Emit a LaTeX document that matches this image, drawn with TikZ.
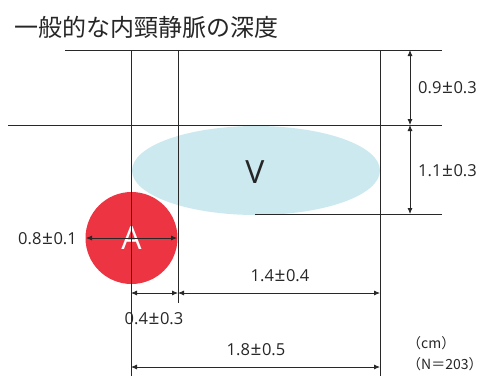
\documentclass[tikz,border=0pt]{standalone}
\usepackage{fontspec}
\setmainfont{Open Sans}
\newfontfamily\cjk{Noto Sans CJK JP}
\usetikzlibrary{arrows.meta}
\definecolor{lineg}{RGB}{40,40,40}
\definecolor{vblue}{RGB}{205,233,240}
\definecolor{ared}{RGB}{236,52,66}
\newcommand{\pmx}{\hspace{0.6pt}{\fontsize{19}{18}\selectfont ±}\hspace{0.6pt}}
\tikzset{
  guide/.style={draw=lineg, line width=0.8pt},
  dim/.style={draw=lineg, line width=0.8pt, {Latex[length=6pt,width=5pt]}-{Latex[length=6pt,width=5pt]}},
  lbl/.style={font=\fontsize{16.5}{18}\selectfont, text=black!85, inner sep=0pt},
  big/.style={font=\fontsize{32}{34}\selectfont, inner sep=0pt}
}
\begin{document}
\begin{tikzpicture}[x=1pt,y=-1pt]
\useasboundingbox (0,0) rectangle (485,376);
% title
\node[anchor=west, inner sep=0pt, font=\cjk\fontsize{24}{26}\selectfont, text=black!85] (title) at (14,27) {一般的な内頸静脈の深度};
% shapes
\fill[vblue] (256,170.5) ellipse [x radius=124, y radius=44.5];
\fill[ared] (131.5,238) circle [radius=46];
\node[big, text=black!85] (v) at (255,172) {V};
\node[big, text=white] (a) at (131.5,238) {A};
% guide lines
\coordinate (h1l) at (65,50); \coordinate (h1r) at (442,50);
\coordinate (h2l) at (8,125); \coordinate (h2r) at (442,125);
\coordinate (h3l) at (255,214); \coordinate (h3r) at (442,214);
\draw[guide] (h1l) -- (h1r);
\draw[guide] (h2l) -- (h2r);
\draw[guide] (h3l) -- (h3r);
\coordinate (v1t) at (131,50); \coordinate (v1b) at (131,376);
\coordinate (v2t) at (178,50); \coordinate (v2b) at (178,303);
\coordinate (v3t) at (380,50); \coordinate (v3b) at (380,376);
\draw[guide] (v1t) -- (v1b);
\draw[guide] (v2t) -- (v2b);
\draw[guide] (v3t) -- (v3b);
% right dimensions
\coordinate (r1) at (410,50); \coordinate (r2) at (410,125); \coordinate (r3) at (410,214);
\draw[dim] (r1) -- (r2);
\draw[dim] (r2) -- (r3);
\node[lbl, anchor=west] (l09) at (418,88) {0.9\pmx0.3};
\node[lbl, anchor=west] (l11) at (418,171) {1.1\pmx0.3};
% circle diameter
\coordinate (c1) at (86,238); \coordinate (c2) at (177,238);
\draw[dim] (c1) -- (c2);
\node[lbl, anchor=east] (l08) at (77,239) {0.8\pmx0.1};
% bottom dims
\coordinate (b1) at (131,293); \coordinate (b2) at (178,293); \coordinate (b3) at (380,293);
\draw[dim] (b1) -- (b2);
\draw[dim] (b2) -- (b3);
\node[lbl] (l14) at (280,276) {1.4\pmx0.4};
\node[lbl] (l04) at (154,319) {0.4\pmx0.3};
\coordinate (d1) at (131,367); \coordinate (d2) at (380,367);
\draw[dim] (d1) -- (d2);
\node[lbl] (l18) at (256,350) {1.8\pmx0.5};
% units
\node[lbl, anchor=west, font=\cjk\fontsize{14}{16}\selectfont] (cm) at (407,343) {（cm）};
\node[lbl, anchor=west, font=\cjk\fontsize{14}{16}\selectfont] (n) at (407,364) {（N＝203）};
\end{tikzpicture}
\end{document}
